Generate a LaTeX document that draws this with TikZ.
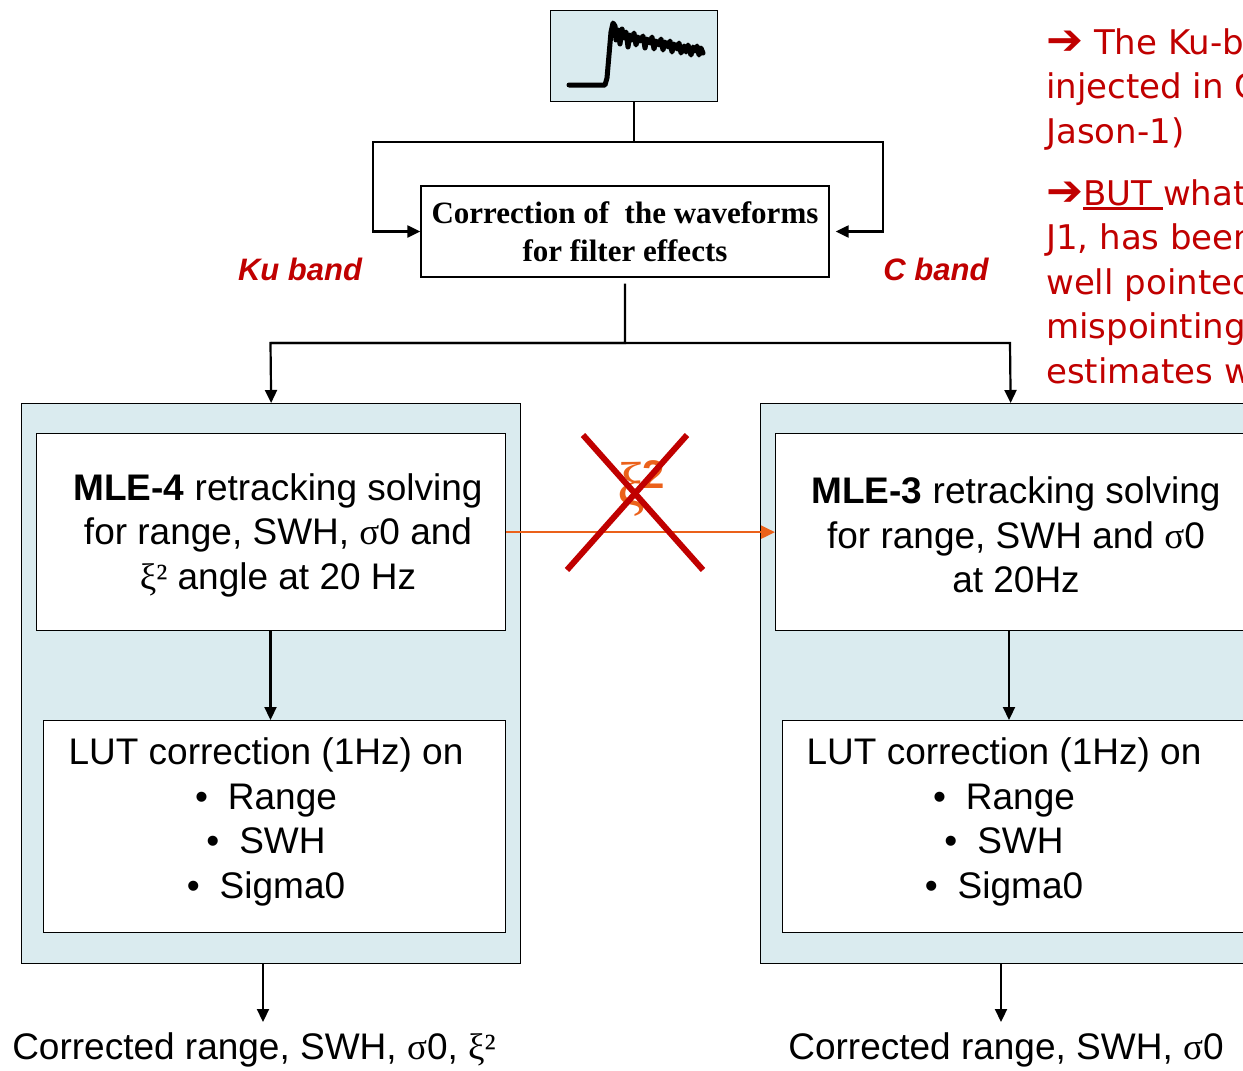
\documentclass[tikz,border=0pt]{standalone}
\usepackage{fontspec}
\setmainfont{Liberation Sans}
\newfontfamily\gk{Liberation Serif}
\newfontfamily\boxserif{Liberation Serif}
\newfontfamily\notefont{DejaVu Sans}
\usetikzlibrary{arrows.meta}
\definecolor{panel}{RGB}{218,235,239}
\definecolor{darkred}{RGB}{192,0,0}
\definecolor{orng}{RGB}{235,97,26}
\newcommand{\notearrow}{\scalebox{1.3}[1.25]{\bfseries ➔}}
\newcommand{\thickul}[1]{\setbox0\hbox{#1}\rlap{\rule[-5pt]{\wd0}{2.6pt}}\box0}
\tikzset{
  panelbox/.style={draw=black, line width=1.3pt, fill=panel, anchor=north west, inner sep=0pt},
  whitebox/.style={draw=black, line width=1.3pt, fill=white, anchor=north west, inner sep=0pt},
  conn/.style={line width=2.2pt, line join=miter},
  arr/.style={conn, -{Triangle[length=13pt,width=12pt]}},
  orarr/.style={draw=orng, line width=2.2pt, -{Triangle[length=14pt,width=13pt]}, fill=orng},
  body/.style={font=\fontsize{37}{44.5}\selectfont, align=center, inner sep=0pt},
  band/.style={font=\bfseries\itshape\fontsize{31}{36}\selectfont, text=darkred, inner sep=0pt},
  note/.style={font=\notefont\fontsize{34}{44.6}\selectfont, text=darkred, align=left, anchor=north west, inner sep=0pt},
  cross/.style={draw=darkred, line width=6pt},
}
\begin{document}
\begin{tikzpicture}[x=1pt, y=-1pt]
\useasboundingbox (0,0) rectangle (1243,1071);
\clip (0,0) rectangle (1243,1071);

% waveform thumbnail
\node[panelbox, minimum width=167, minimum height=91] (wave) at (550,10) {};
\draw[line width=5pt, line join=round, line cap=round]
  (569,85) -- (605,85) -- (607,78) -- (609,55) -- (611,32) -- (613,23) -- (615,26) -- (616,40)
  -- (618,30) -- (620,44) -- (622,29) -- (624,38) -- (626,32) -- (628,47) -- (630,35) -- (632,40)
  -- (634,33) -- (636,45) -- (638,37) -- (640,41) -- (643,36) -- (645,48) -- (647,39) -- (650,43)
  -- (652,37) -- (654,49) -- (656,41) -- (659,45) -- (661,39) -- (663,50) -- (665,42) -- (668,47)
  -- (670,41) -- (672,52) -- (674,44) -- (677,49) -- (679,43) -- (681,53) -- (684,46) -- (686,52)
  -- (688,45) -- (691,55) -- (693,47) -- (695,51) -- (697,46) -- (699,55) -- (701,48) -- (703,53);

% filter-effect correction
\node[draw=black, line width=1.3pt, fill=white, minimum width=408, minimum height=91,
      font=\boxserif\bfseries\fontsize{31}{38}\selectfont, align=center, inner sep=0pt]
      (filter) at (625,231.5) {Correction of\ \ the waveforms\\for filter effects};

\coordinate (kuL) at (373,142);
\coordinate (cR) at (883,142);
\draw[arr] (wave.south) |- (kuL) |- (filter.west);
\draw[arr, shorten >=6pt] (kuL) -- (cR) |- (filter.east);

\node[band] (kuband) at (300,269) {Ku band};
\node[band] (cband) at (936,269) {C band};

% two processing panels
\node[panelbox, minimum width=499, minimum height=560] (kupanel) at (21,403) {};
\node[panelbox, minimum width=500, minimum height=560] (cpanel) at (760,403) {};

\coordinate (hubL) at (270.5,343);
\coordinate (hubR) at (1010,343);
\draw[arr] ([yshift=-6pt]filter.south) |- (hubL) -- (kupanel.north);
\draw[arr] (hubL) -- (hubR) -- (cpanel.north);

\node[whitebox, minimum width=469, minimum height=197] (mlefour) at (36,433) {};
\node[whitebox, minimum width=462, minimum height=212] (lutku) at (43,720) {};
\node[whitebox, minimum width=483, minimum height=197] (mlethree) at (775,433) {};
\node[whitebox, minimum width=468, minimum height=212] (lutc) at (782,720) {};

\node[body] (tmlefour) at (278,535)
  {\textbf{MLE-4} retracking solving\\for range, SWH, {\gk σ}0 and\\{\gk ξ²} angle at 20 Hz};
\node[body] (tmlethree) at (1016,535)
  {\textbf{MLE-3} retracking solving\\for range, SWH and {\gk σ}0\\at 20Hz};
\node[body] (tlutku) at (266,822)
  {LUT correction (1Hz) on\\\textbullet\hspace{20pt}Range\\\textbullet\hspace{20pt}SWH\\\textbullet\hspace{20pt}Sigma0};
\node[body] (tlutc) at (1004,822)
  {LUT correction (1Hz) on\\\textbullet\hspace{20pt}Range\\\textbullet\hspace{20pt}SWH\\\textbullet\hspace{20pt}Sigma0};

\draw[arr] (270.5,630) coordinate (a1) -- (a1 |- lutku.north);
\draw[arr] (1009,630) coordinate (a2) -- (a2 |- lutc.north);

% outputs
\coordinate (outku) at (263,1022);
\coordinate (outc) at (1001,1022);
\draw[arr] (kupanel.south -| outku) -- (outku);
\draw[arr] (cpanel.south -| outc) -- (outc);
\node[body] (resku) at (254,1050) {Corrected range, SWH, {\gk σ}0, {\gk ξ²}};
\node[body] (resc) at (1006,1050) {Corrected range, SWH, {\gk σ}0};

% the crossed-out link
\draw[orarr] (mlefour.east) -- (mlethree.west);
\node[text=orng, inner sep=0pt] (xilab) at (641,489)
  {{\gk\fontsize{62}{62}\selectfont ξ}\hspace{-2pt}\raisebox{17pt}{\bfseries\fontsize{40}{40}\selectfont 2}};
\coordinate (xa) at (583,435);
\coordinate (xb) at (703,570);
\coordinate (xc) at (687,435);
\coordinate (xd) at (567,570);
\draw[cross] (xa) -- (xb);
\draw[cross] (xc) -- (xd);

% side notes
\node[note] (noteone) at (1046,28)
  {\notearrow{} The Ku-band\\injected in C\\Jason-1)};
\node[note] (notetwo) at (1046,179)
  {\notearrow\thickul{BUT }what\\J1, has been\\well pointed\\mispointing\\estimates w};
\end{tikzpicture}
\end{document}
